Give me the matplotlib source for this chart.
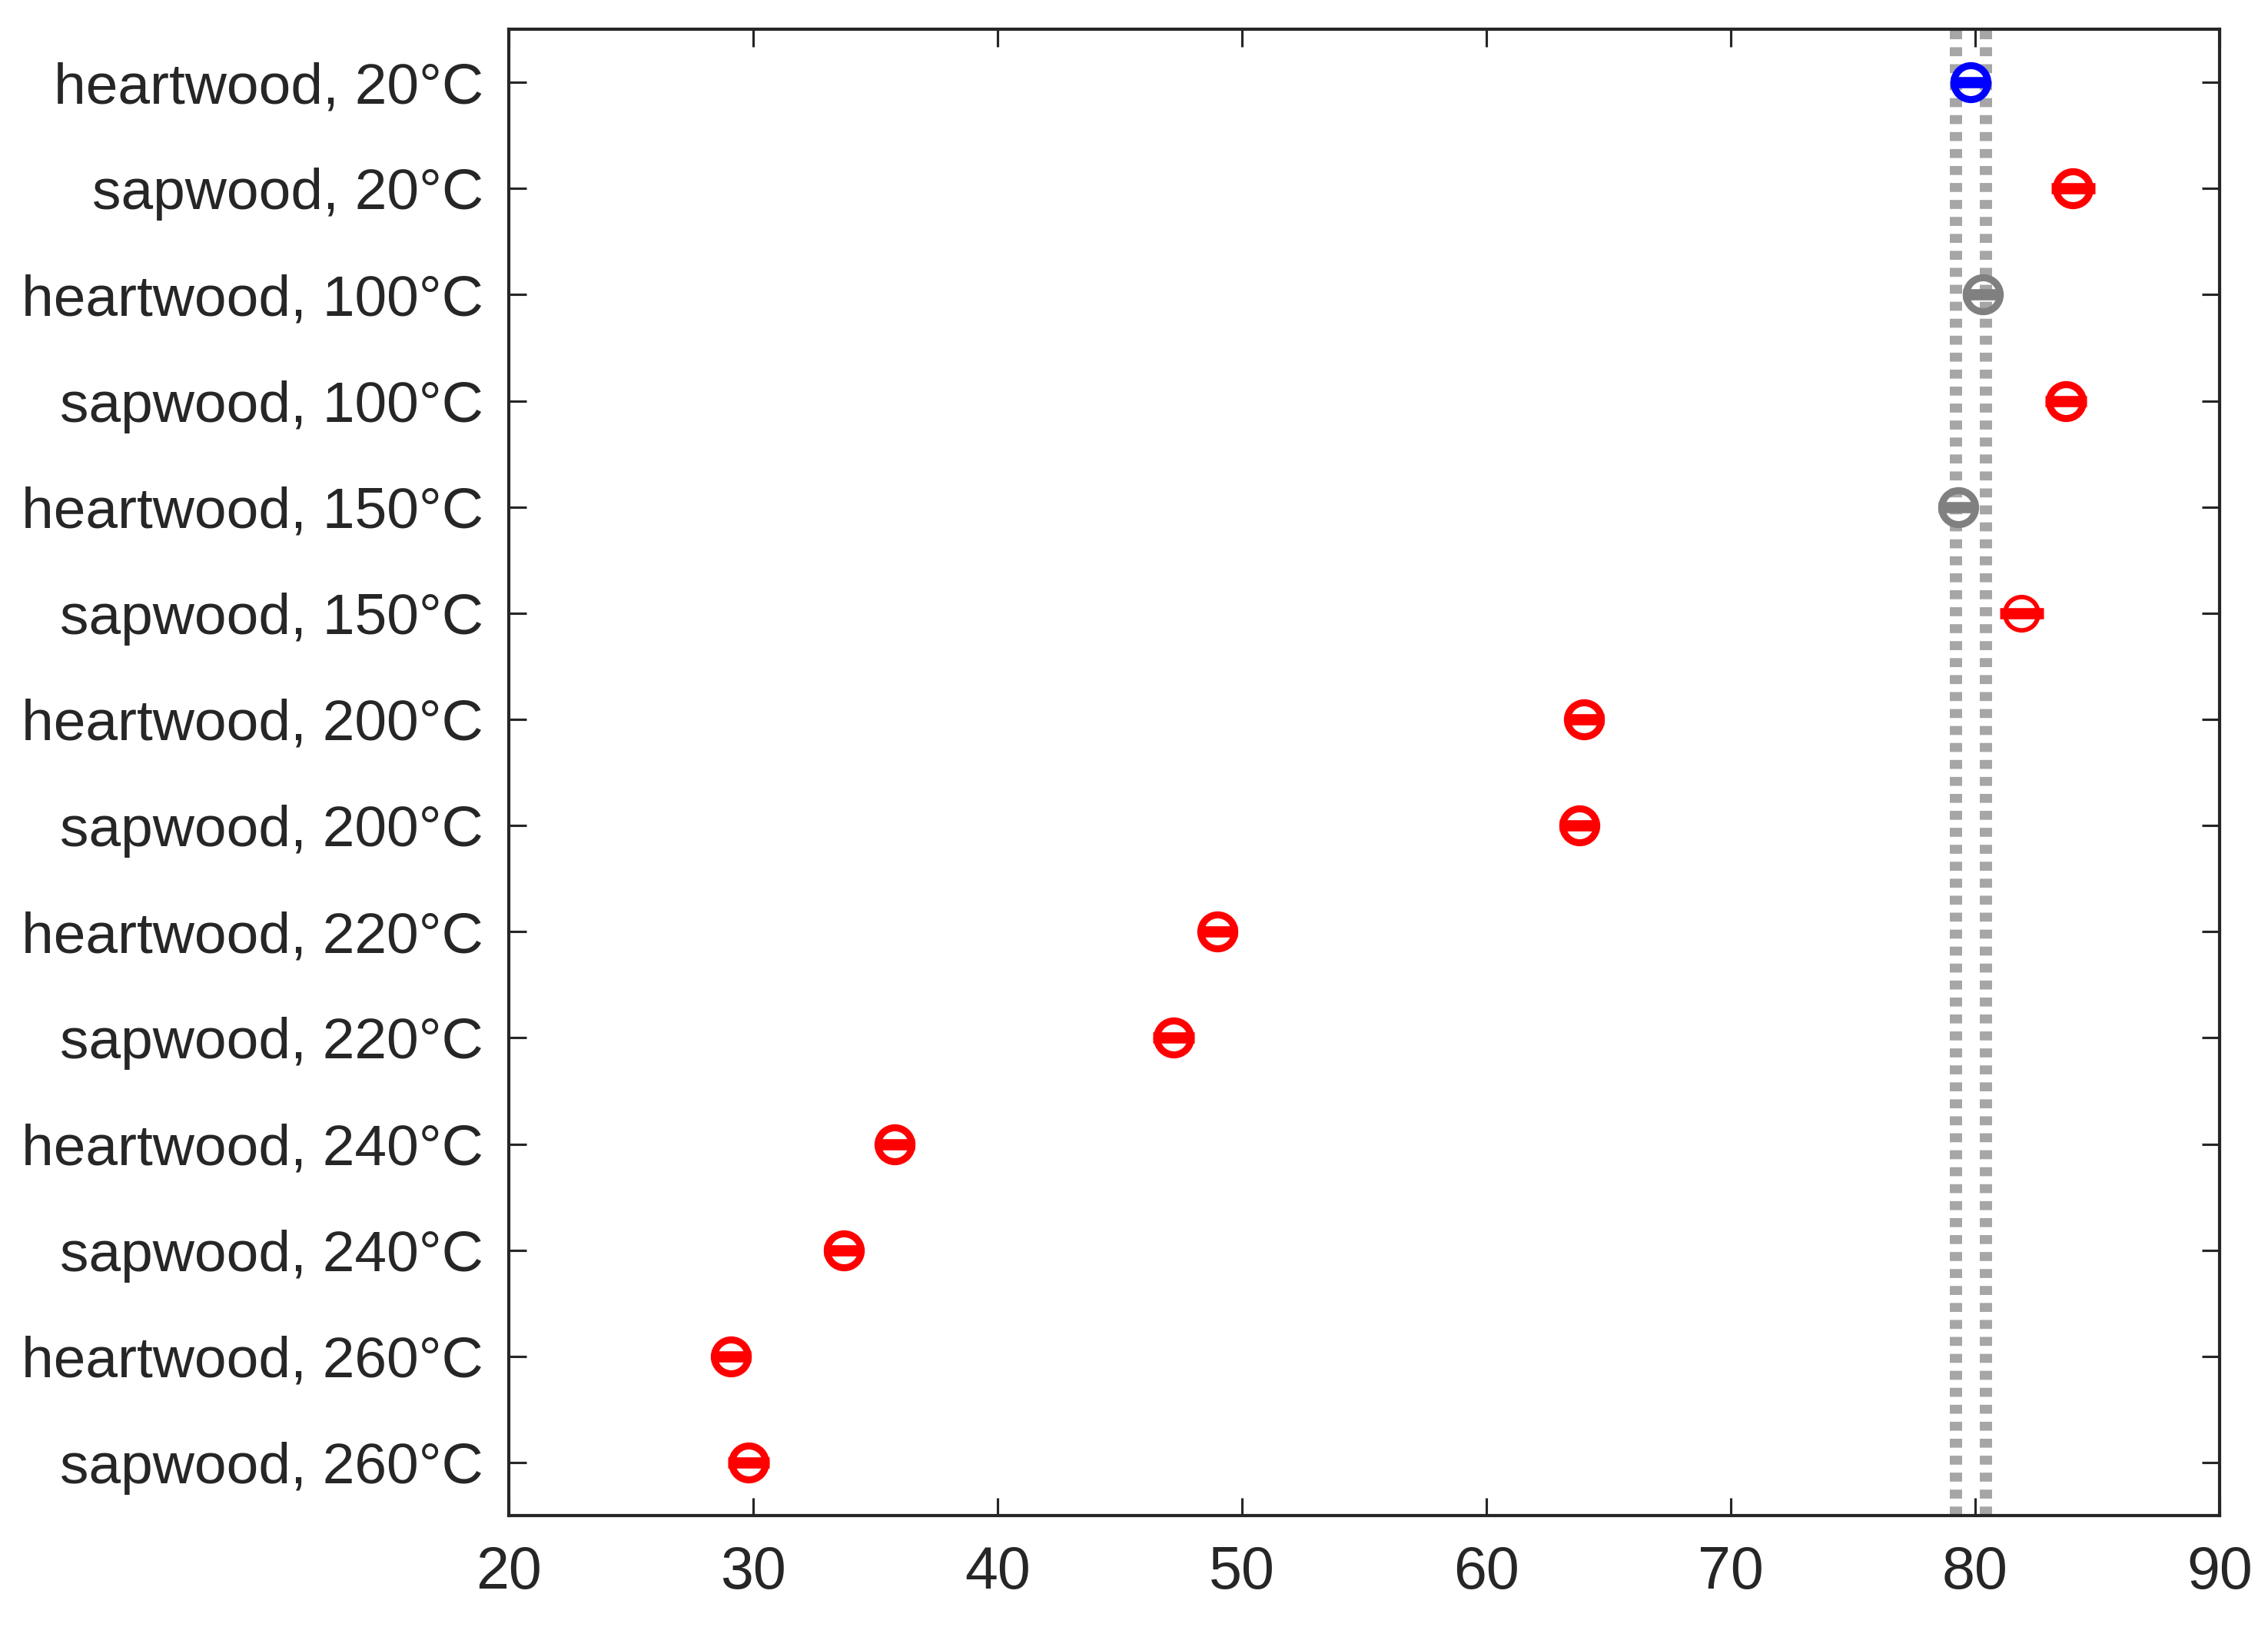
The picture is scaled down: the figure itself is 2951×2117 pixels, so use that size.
import matplotlib
matplotlib.use("Agg")
import matplotlib.pyplot as plt
import numpy as np

plt.rcParams['font.family'] = ['Liberation Sans', 'DejaVu Sans']

categories = ["heartwood, 20°C", "sapwood, 20°C",
              "heartwood, 100°C", "sapwood, 100°C",
              "heartwood, 150°C", "sapwood, 150°C",
              "heartwood, 200°C", "sapwood, 200°C",
              "heartwood, 220°C", "sapwood, 220°C",
              "heartwood, 240°C", "sapwood, 240°C",
              "heartwood, 260°C", "sapwood, 260°C"]
values = [79.8, 84.0, 80.3, 83.7, 79.3, 81.9, 64.0, 63.8, 49.0, 47.2, 35.8, 33.7, 29.1, 29.8]
errors = [0.8, 0.9, 0.8, 0.85, 0.8, 0.9, 0.8, 0.8, 0.8, 0.85, 0.8, 0.8, 0.8, 0.85]
colors = ["#0000ff", "#ff0000", "#808080", "#ff0000", "#808080", "#ff0000", "#ff0000",
          "#ff0000", "#ff0000", "#ff0000", "#ff0000", "#ff0000", "#ff0000", "#ff0000"]
ref_lines = [79.2, 80.45]
xticks = [20, 30, 40, 50, 60, 70, 80, 90]

W, H, DPI = 2951, 2117, 300
fig = plt.figure(figsize=(W / DPI, H / DPI), dpi=DPI)
ax = fig.add_axes([662 / W, (H - 1972) / H, (2888 - 662) / W, (1972 - 38) / H])

text_col = "#262626"
lw_px = 16 / DPI * 72
for xv in ref_lines:
    ax.axvline(xv, color="#a6a6a6", lw=lw_px,
               linestyle=(0, (0.73, 0.65)), dash_capstyle='butt', zorder=1)

ypos = np.arange(1, len(categories) + 1)
for i, (v, e, c) in enumerate(zip(values, errors, colors)):
    mew = 1.4 if i == 5 else 2.2
    ms = 10.4 if i == 5 else 10.6
    ax.errorbar(v, ypos[i], xerr=e, fmt='o', color=c, mfc='none', mec=c,
                ms=ms, mew=mew, elinewidth=3.5, capsize=0, zorder=3)

ax.set_xlim(20, 90)
ax.set_ylim(len(categories) + 0.5, 0.5)
ax.set_xticks(xticks)
ax.set_yticks(ypos)
ax.set_yticklabels(categories)

for s in ax.spines.values():
    s.set_linewidth(1.0)
    s.set_color(text_col)
ax.tick_params(axis='both', direction='in', length=5.5, width=0.75,
               colors=text_col, top=True, right=True)
ax.tick_params(axis='x', pad=9, labelsize=18.5)
ax.tick_params(axis='y', pad=8, labelsize=18)

fig.savefig("out.png", dpi=DPI)
